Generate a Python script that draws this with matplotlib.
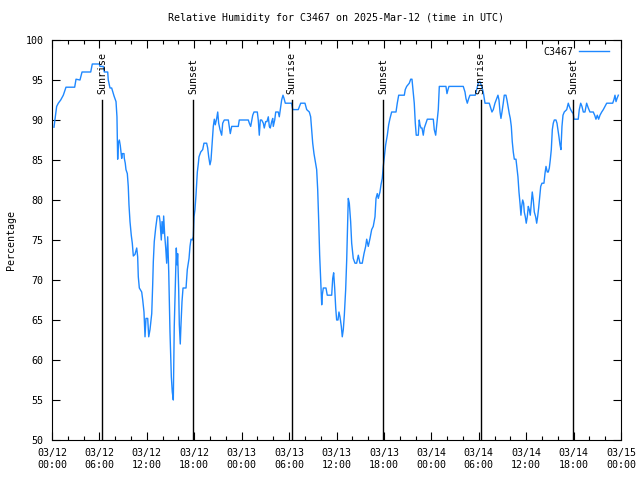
import numpy as np, pandas as pd
import matplotlib; matplotlib.use('Agg'); import matplotlib.pyplot as plt
import matplotlib.dates as mdates

plt.rcParams['font.family'] = ['DejaVu Sans Mono']
FS = 7.2

# relative humidity, hours since 2025-03-12 00:00 UTC
hours = [0.25,0.59,0.80,1.10,1.43,1.77,2.87,3.04,3.54,3.80,4.90,5.10,5.98,6.07,6.49,6.62,7.05,7.12,7.34,7.55,
         7.85,8.10,8.22,8.31,8.39,8.52,8.64,8.82,8.90,9.11,9.15,9.27,9.36,9.53,9.65,9.74,9.87,10.03,10.16,10.29,
         10.50,10.72,10.84,10.92,11.05,11.35,11.48,11.64,11.77,11.89,12.11,12.24,12.40,12.62,12.74,12.82,12.94,13.12,13.32,13.58,
         13.67,13.83,13.92,14.05,14.13,14.26,14.39,14.51,14.64,14.77,14.93,15.10,15.22,15.35,15.47,15.65,15.73,15.82,15.90,16.03,
         16.11,16.23,16.32,16.45,16.58,16.96,17.12,17.34,17.46,17.59,17.75,17.88,17.97,18.09,18.22,18.39,18.51,18.60,18.82,19.07,
         19.23,19.57,19.70,19.83,19.99,20.12,20.28,20.41,20.54,20.66,20.84,20.97,21.09,21.26,21.47,21.60,21.80,22.31,22.43,22.56,
         22.74,23.57,23.70,24.84,24.97,25.14,25.40,25.56,25.98,26.10,26.23,26.36,26.53,26.74,26.86,27.04,27.20,27.37,27.50,27.62,
         27.80,27.93,28.00,28.18,28.31,28.63,28.76,28.94,29.06,29.23,29.36,29.52,30.33,30.46,31.16,31.47,32.01,32.23,32.56,32.73,
         32.86,32.99,33.15,33.32,33.49,33.62,33.75,33.87,34.00,34.13,34.20,34.33,34.67,34.83,35.39,35.52,35.64,35.77,35.90,36.02,
         36.19,36.31,36.44,36.61,36.73,36.86,36.99,37.16,37.29,37.42,37.49,37.62,37.79,37.92,38.12,38.34,38.55,38.76,38.97,39.26,
         39.48,39.69,39.82,40.02,40.24,40.45,40.65,40.87,41.00,41.16,41.29,41.50,41.63,41.79,41.92,42.05,42.22,42.43,42.60,42.77,
         42.98,43.53,43.69,43.87,44.58,44.70,44.88,45.21,45.39,45.55,45.72,45.84,45.97,46.09,46.35,46.47,46.56,46.69,46.82,46.98,
         47.11,47.32,47.49,48.25,48.37,48.55,48.71,48.88,49.01,49.85,49.98,50.11,50.23,52.04,52.26,52.38,52.55,52.73,52.89,53.56,
         53.74,53.94,54.15,54.37,54.57,54.79,55.33,55.51,55.67,55.84,56.05,56.27,56.43,56.56,56.69,56.81,56.94,57.10,57.23,57.44,
         57.57,57.74,57.86,57.99,58.12,58.24,58.37,58.50,58.71,58.84,58.96,59.09,59.22,59.34,59.43,59.56,59.68,59.76,59.89,60.01,
         60.14,60.27,60.39,60.52,60.65,60.77,60.90,61.03,61.20,61.33,61.45,61.58,61.71,61.84,62.00,62.25,62.38,62.51,62.67,62.80,
         62.93,63.05,63.18,63.31,63.43,63.56,63.77,63.90,64.02,64.15,64.28,64.40,64.53,64.66,64.82,65.13,65.33,65.46,65.63,65.80,
         65.96,66.05,66.59,66.72,66.90,67.06,67.23,67.44,67.65,67.86,68.07,68.49,68.67,68.83,69.00,69.17,69.34,69.56,69.76,69.97,
         70.19,70.95,71.12,71.24,71.37,71.50,71.66]
rh = [89.1,91.7,92.1,92.5,93.1,94.1,94.1,95.1,95.0,96.0,96.0,97.0,97.0,96.7,96.7,96.0,96.0,95.0,94.0,94.0,
      93.0,92.3,90.4,85.1,87.1,87.5,86.8,85.2,85.8,85.8,85.2,84.6,83.8,83.3,81.7,79.4,77.3,75.6,74.6,73.0,
      73.2,74.0,72.9,70.4,69.0,68.5,67.5,66.0,62.9,65.2,65.2,62.9,63.8,65.8,69.4,72.3,74.8,76.5,78.0,78.0,
      77.3,75.0,77.3,75.8,78.0,75.6,74.0,72.1,75.4,71.0,63.5,57.9,56.0,55.0,64.2,70.8,74.0,71.9,73.3,68.8,
      64.4,62.0,64.4,67.3,69.0,69.0,71.3,72.7,74.2,75.1,75.0,75.4,77.9,78.8,80.6,83.5,84.5,85.4,86.0,86.3,
      87.1,87.1,86.5,85.4,84.4,85.0,87.3,89.2,90.1,89.4,90.2,91.0,89.6,88.8,88.1,89.6,90.0,90.0,89.2,88.3,
      89.2,89.2,90.0,90.0,89.6,89.2,90.6,91.0,91.0,90.0,88.1,90.0,90.0,89.6,89.0,89.8,89.8,90.4,89.2,89.0,
      89.8,90.2,89.2,90.0,91.0,91.0,90.4,91.7,92.5,93.1,92.7,92.1,92.1,91.3,91.3,92.1,92.1,91.3,91.0,90.4,
      88.8,87.1,85.8,84.8,83.8,81.3,77.3,73.1,70.0,66.9,68.1,69.0,69.0,68.1,68.1,70.2,70.9,69.0,66.5,65.0,
      65.0,66.0,65.4,64.2,62.9,63.8,65.6,68.8,72.5,77.5,80.2,79.6,77.3,74.6,72.7,72.1,72.1,73.1,72.1,72.1,
      73.3,74.2,75.1,74.2,75.2,76.3,76.7,77.9,80.2,80.8,80.2,81.0,81.9,82.7,84.2,85.4,86.9,88.1,89.4,90.2,
      91.0,91.0,92.1,93.1,93.1,93.8,94.2,94.6,95.1,95.1,93.3,92.1,89.6,88.1,88.1,90.0,89.4,89.0,89.0,88.1,
      89.0,89.6,90.1,90.1,88.8,88.1,89.6,91.3,94.2,94.2,93.3,93.8,94.2,94.2,93.5,92.7,92.1,92.7,93.1,93.1,
      93.8,94.6,94.8,94.2,93.5,92.1,92.1,91.5,91.0,91.3,92.1,92.7,93.1,92.5,91.0,90.2,91.0,92.1,93.1,93.1,
      92.5,91.5,90.8,90.2,89.2,87.3,86.0,85.1,85.1,84.0,82.9,81.0,79.6,78.1,79.2,80.0,79.6,78.5,77.9,77.1,
      77.9,79.2,78.8,78.1,79.6,81.0,80.0,78.5,77.9,77.1,77.9,79.0,80.4,81.7,82.1,82.1,83.3,84.2,83.5,83.5,
      84.0,85.0,86.3,88.8,89.6,90.0,90.0,89.6,88.8,87.9,86.9,86.3,89.2,90.6,91.0,91.3,92.1,91.7,91.3,91.0,
      90.8,90.1,90.1,91.3,92.1,91.7,91.0,91.0,92.1,91.5,91.0,91.0,90.6,90.1,90.6,90.1,90.6,91.0,91.3,91.7,
      92.1,92.1,92.6,93.1,92.3,92.7,93.1]

sun_hours = [6.33, 17.88, 30.33, 41.92, 54.24, 65.96]
sun_names = ['Sunrise', 'Sunset', 'Sunrise', 'Sunset', 'Sunrise', 'Sunset']

t0 = pd.Timestamp('2025-03-12 00:00')
t = t0 + pd.to_timedelta(hours, unit='h')
ts = t0 + pd.to_timedelta(sun_hours, unit='h')

fig = plt.figure(figsize=(6.4, 4.8), dpi=100)
ax = fig.add_axes([52/640, 40/480, 569/640, 400/480])
ax.plot(t, rh, color='#1e88ff', lw=1.0, label='C3467')
for x, nm in zip(ts, sun_names):
    ax.plot([x, x], [50, 92.5], color='black', lw=1.0)
    ax.text(x, 93.3, nm, rotation=90, ha='center', va='bottom', fontsize=FS)

ax.set_xlim(t0, t0 + pd.Timedelta(hours=72))
ax.set_ylim(50, 100)
ax.set_yticks(np.arange(50, 101, 5))
ax.xaxis.set_major_locator(mdates.HourLocator(byhour=[0, 6, 12, 18]))
ax.xaxis.set_minor_locator(mdates.HourLocator(interval=2))
ax.xaxis.set_major_formatter(mdates.DateFormatter('%m/%d\n%H:%M'))
ax.tick_params(which='both', direction='in', top=True, right=True, labelsize=FS, width=0.8, color='black')
ax.tick_params(which='major', length=6, pad=6)
ax.tick_params(which='minor', length=3)
for s in ax.spines.values(): s.set_linewidth(0.8)
ax.set_title('Relative Humidity for C3467 on 2025-Mar-12 (time in UTC)', fontsize=FS, pad=14)
ax.set_ylabel('Percentage', fontsize=FS, labelpad=7)
ax.legend(loc='upper right', bbox_to_anchor=(0.992, 1.0), frameon=False, fontsize=FS, handlelength=3.0,
          markerfirst=False, borderaxespad=0.3, handletextpad=0.6)
fig.savefig('out.png', dpi=100)
